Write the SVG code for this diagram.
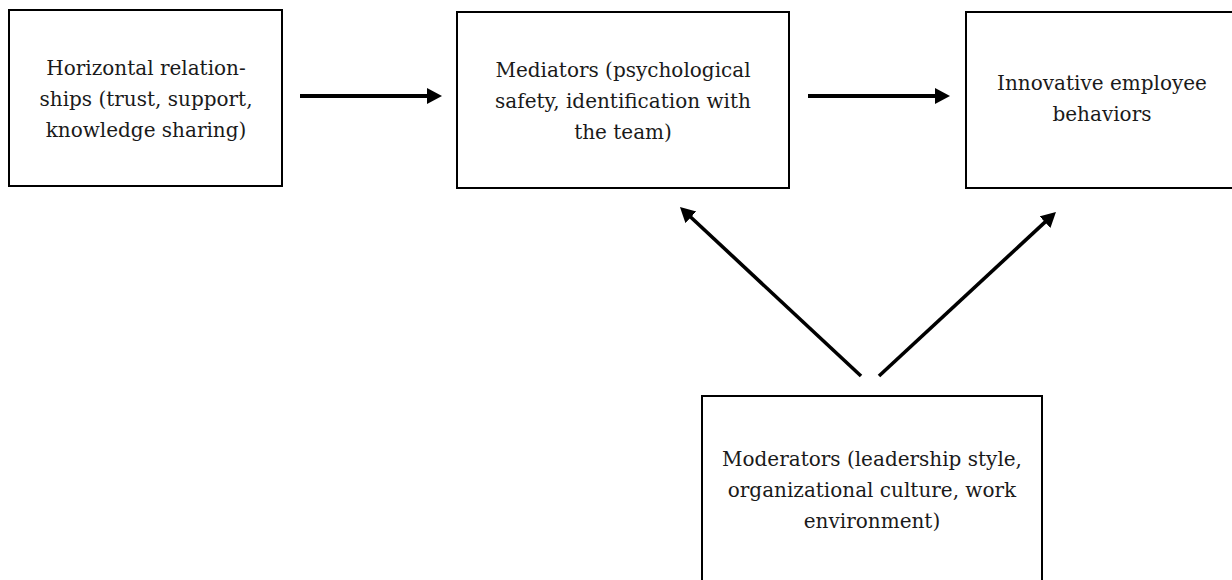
<svg xmlns="http://www.w3.org/2000/svg" width="1232" height="580" viewBox="0 0 1232 580">
<style>
.box{fill:#fff;stroke:#000;stroke-width:2}
.lbl{font-family:"DejaVu Serif","Liberation Serif",serif;font-size:20px;fill:#1a1a1a;text-anchor:middle}
.conn{stroke:#000;stroke-width:4;fill:none;marker-end:url(#ah)}
.diag{stroke-width:3.6}
</style>
<defs>
<marker id="ah" markerUnits="userSpaceOnUse" markerWidth="16" markerHeight="17" refX="7" refY="8" orient="auto" viewBox="0 0 16 17">
<path d="M0,0 L15,8 L0,16 Z" fill="#000"/>
</marker>
</defs>
<rect width="1232" height="580" fill="#fff"/>
<g id="node-horizontal">
<rect class="box" x="9" y="10" width="273" height="176"/>
<text class="lbl" x="146"><tspan x="146" y="75">Horizontal relation-</tspan><tspan x="146" y="106">ships (trust, support,</tspan><tspan x="146" y="137">knowledge sharing)</tspan></text>
</g>
<g id="node-mediators">
<rect class="box" x="457" y="12" width="332" height="176"/>
<text class="lbl" x="623"><tspan x="623" y="77">Mediators (psychological</tspan><tspan x="623" y="108">safety, identification with</tspan><tspan x="623" y="139">the team)</tspan></text>
</g>
<g id="node-innovative">
<rect class="box" x="966" y="12" width="280" height="176"/>
<text class="lbl" x="1102"><tspan x="1102" y="90">Innovative employee</tspan><tspan x="1102" y="121">behaviors</tspan></text>
</g>
<g id="node-moderators">
<rect class="box" x="702" y="396" width="340" height="210"/>
<text class="lbl" x="872"><tspan x="872" y="466">Moderators (leadership style,</tspan><tspan x="872" y="497">organizational culture, work</tspan><tspan x="872" y="528">environment)</tspan></text>
</g>
<g id="connectors">
<line class="conn" x1="300" y1="96" x2="434" y2="96"/>
<line class="conn" x1="808" y1="96" x2="942" y2="96"/>
<line class="conn diag" x1="861" y1="376" x2="685.8" y2="212.5"/>
<line class="conn diag" x1="879" y1="376" x2="1050.1" y2="217.4"/>
</g>
</svg>
